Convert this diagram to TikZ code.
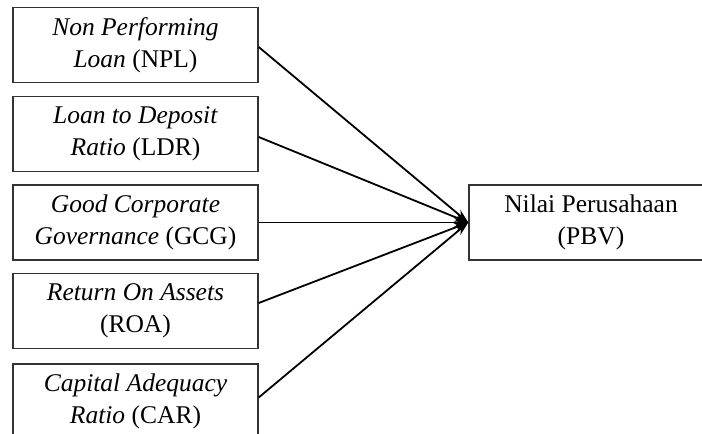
\documentclass[tikz,border=0pt]{standalone}
\usepackage{fontspec}
\setmainfont{Liberation Serif}
\usetikzlibrary{arrows.meta}
\begin{document}
\begin{tikzpicture}[x=1pt,y=1pt,
  varbox/.style={draw=black!80, line width=1.4pt, minimum width=245pt, minimum height=75pt,
    inner sep=0pt, align=center, font=\fontsize{25.5}{32.5}\selectfont,
    execute at begin node={\rule{0pt}{31pt}}},
  conn/.style={line width=1.8pt, -{Stealth[length=14pt,width=9pt]}}]
\useasboundingbox (0,0) rectangle (702,434);
\clip (0,0) rectangle (702,434);
\node[varbox] (npl) at (135.5,389) {\textit{Non Performing}\\\textit{Loan} (NPL)};
\node[varbox] (ldr) at (135.5,300) {\textit{Loan to Deposit}\\\textit{Ratio} (LDR)};
\node[varbox] (gcg) at (135.5,211.5) {\textit{Good Corporate}\\\textit{Governance} (GCG)};
\node[varbox] (roa) at (135.5,123) {\textit{Return On Assets}\\(ROA)};
\node[varbox] (car) at (135.5,32.5) {\textit{Capital Adequacy}\\\textit{Ratio} (CAR)};
\node[varbox, minimum width=244pt] (pbv) at (591,211.5) {Nilai Perusahaan\\(PBV)};
\draw[conn] ([yshift=-2pt]npl.east) -- (pbv.west);
\draw[conn] ([yshift=-3pt]ldr.east) -- (pbv.west);
\draw[conn] (gcg.east) -- (pbv.west);
\draw[conn] ([yshift=8pt]roa.east) -- (pbv.west);
\draw[conn] ([yshift=4pt]car.east) -- (pbv.west);
\end{tikzpicture}
\end{document}
